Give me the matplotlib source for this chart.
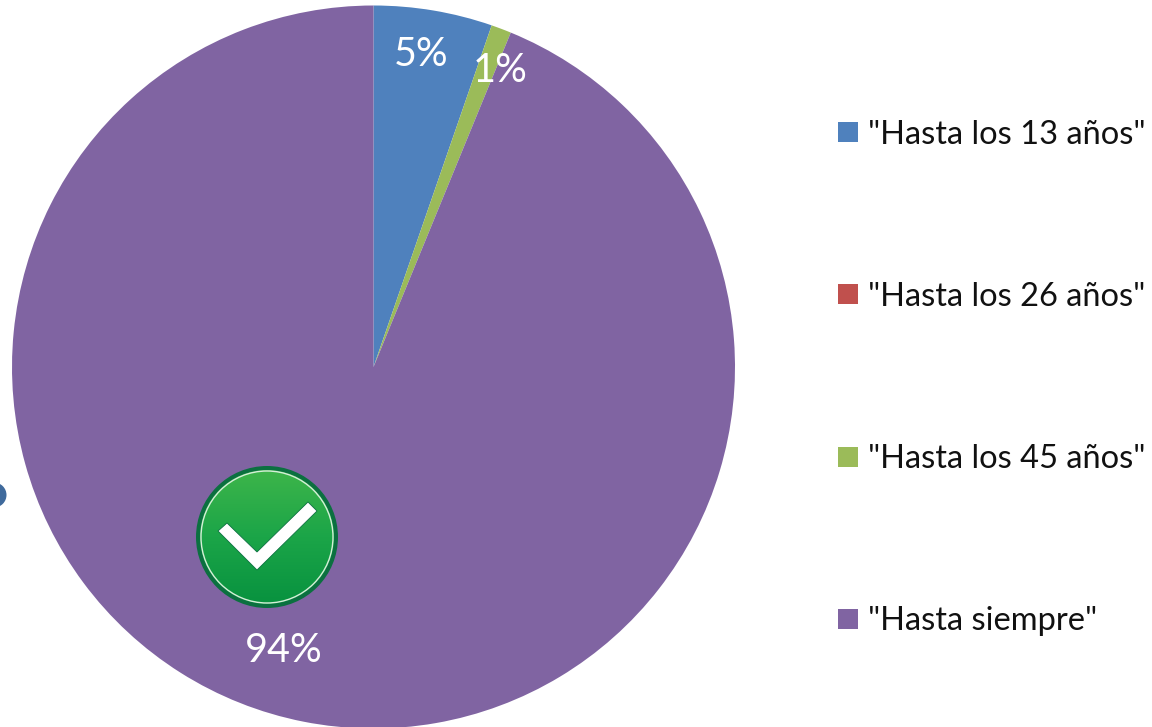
import numpy as np
import matplotlib
matplotlib.use("Agg")
import matplotlib.pyplot as plt
from matplotlib.patches import Circle, Polygon, Rectangle
from matplotlib.colors import LinearSegmentedColormap

categories = ['"Hasta los 13 años"', '"Hasta los 26 años"', '"Hasta los 45 años"', '"Hasta siempre"']
values = [5.3, 0.0, 0.9, 93.8]
colors = ['#4f81bd', '#c0504d', '#9bbb59', '#8064a2']
value_labels = ['5%', '1%', '94%']

plt.rcParams['font.family'] = ['Lato', 'DejaVu Sans']
W, H = 1152, 727
fig = plt.figure(figsize=(W/100, H/100), dpi=100)
ax = fig.add_axes([0, 0, 1, 1])
Y = lambda py: H - py

ax.pie(values, colors=colors, startangle=90, counterclock=False,
       center=(373.5, Y(367)), radius=361.5, frame=True,
       wedgeprops=dict(linewidth=0))
ax.set_xlim(0, W); ax.set_ylim(0, H); ax.set_aspect('equal'); ax.axis('off')

for txt, (px, py) in zip(value_labels, [(421, 55), (500, 71), (284, 651)]):
    ax.text(px, Y(py), txt, color='white', fontsize=28.5, ha='center', va='center')

for cat, col, py in zip(categories, colors, [132, 294, 457, 619]):
    ax.add_patch(Rectangle((838, Y(py)-10), 20, 20, facecolor=col, edgecolor='none'))
    ax.text(868, Y(py)+0.5, cat, color='#111111', fontsize=23.5, ha='left', va='center_baseline')

# blue edge blob
ax.add_patch(Circle((-6, Y(495)), 12.5, facecolor='#3f6a9c', edgecolor='none'))

# check icon
cx, cy = 267, 537
ax.add_patch(Circle((cx, Y(cy)), 71, facecolor='#0b7040', edgecolor='none', zorder=3))
cmap = LinearSegmentedColormap.from_list('g', ['#3db54a', '#1ba548', '#08923f'])
grad = np.linspace(0, 1, 256).reshape(-1, 1)
im = ax.imshow(grad, extent=(cx-67, cx+67, Y(cy+67), Y(cy-67)), cmap=cmap,
               origin='upper', aspect='auto', zorder=4)
clip = Circle((cx, Y(cy)), 67, transform=ax.transData)
im.set_clip_path(clip)
ax.set_xlim(0, W); ax.set_ylim(0, H)
ax.add_patch(Circle((cx, Y(cy)), 66, facecolor='none', edgecolor='#d5eed8', linewidth=1.0, zorder=5))
ck = [(218, 531), (227, 523), (257, 552), (308, 502), (317, 511), (257, 570)]
ax.add_patch(Polygon([(x, Y(y)) for x, y in ck], closed=True, facecolor='white',
                     edgecolor='#0b7040', linewidth=0.6, zorder=6))

fig.savefig('out.png', dpi=100, facecolor='white')
